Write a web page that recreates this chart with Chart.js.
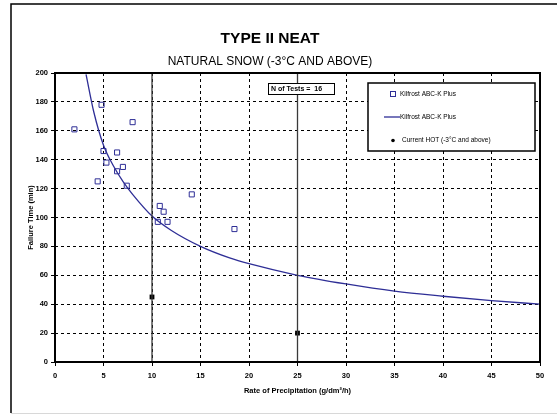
<!DOCTYPE html>
<html>
<head>
<meta charset="utf-8">
<script src="https://cdn.jsdelivr.net/npm/chart.js@4.4.0/dist/chart.umd.min.js"></script>
<style>
  body { margin: 0; background: #fff; }
  #grafico { display: block; }
</style>
</head>
<body>
<canvas id="grafico" width="557" height="415"></canvas>
<script>
// Ensayos (Kilfrost ABC-K Plus)
const ensayosX = [2, 4.8, 8, 5, 5.3, 6.4, 6.4, 7, 4.4, 7.4, 10.8, 11.2, 10.6, 11.6, 14.1, 18.5];
const ensayosY = [161, 178, 166, 146, 138, 145, 132, 135, 125, 122, 108, 104, 97, 97, 116, 92];

// Curva de regresion
const curvaX = [3.2, 4, 5, 6, 7, 8, 10, 12, 15, 18, 20, 25, 30, 35, 40, 45, 50];
const curvaY = [199, 173, 150, 136, 125, 116, 101, 91, 80, 72, 68, 60, 54, 49, 45.5, 42.5, 40];

// Current HOT (-3 C and above)
const hotX = [10, 25];
const hotY = [45, 20];

const ticksX = [0, 5, 10, 15, 20, 25, 30, 35, 40, 45, 50];
const ticksY = [0, 20, 40, 60, 80, 100, 120, 140, 160, 180, 200];

const etiquetas = ['Kilfrost ABC-K Plus', 'Kilfrost ABC-K Plus', 'Current HOT (-3\u00B0C and above)'];
const numEnsayos = ensayosX.length;

const azul = '#2e2e96';
const fuentePeq = { family: 'Liberation Sans, Arial, sans-serif', size: 7.5, weight: 'bold' };

function pares(xs, ys) {
    return xs.map((x, i) => ({ x: x, y: ys[i] }));
}

// lineas verticales en los puntos HOT
const verticales = hotX.map(x => ({
    type: 'line',
    data: [{ x: x, y: 0 }, { x: x, y: 200 }],
    borderColor: '#3a3a3a',
    borderWidth: 1.3,
    pointRadius: 0,
    showLine: true
}));

// cuadro del grafico, leyenda y caja "N of Tests"
const extras = {
    id: 'extras',
    beforeDraw(chart) {
        const ctx = chart.ctx;
        ctx.save();
        ctx.fillStyle = '#fff';
        ctx.fillRect(0, 0, chart.width, chart.height);
        ctx.strokeStyle = '#000';
        ctx.lineWidth = 1.5;
        ctx.beginPath();
        ctx.moveTo(11, 413);
        ctx.lineTo(11, 4);
        ctx.lineTo(557, 4);
        ctx.stroke();
        ctx.strokeStyle = '#d8d8d8';
        ctx.lineWidth = 1;
        ctx.beginPath();
        ctx.moveTo(11, 413.5);
        ctx.lineTo(557, 413.5);
        ctx.stroke();
        ctx.restore();
    },
    afterDraw(chart) {
        const ctx = chart.ctx;
        const a = chart.chartArea;
        ctx.save();
        ctx.strokeStyle = '#000';
        ctx.lineWidth = 2;
        ctx.strokeRect(a.left, a.top, a.right - a.left, a.bottom - a.top);

        // N of Tests
        ctx.fillStyle = '#fff';
        ctx.fillRect(268, 83, 66, 11);
        ctx.lineWidth = 1;
        ctx.strokeRect(268.5, 83.5, 66, 11);
        ctx.fillStyle = '#000';
        ctx.font = 'bold 7px Liberation Sans, Arial, sans-serif';
        ctx.textBaseline = 'middle';
        ctx.textAlign = 'left';
        ctx.fillText('N of Tests =  ' + numEnsayos, 271, 89.5);

        // leyenda
        ctx.fillStyle = '#fff';
        ctx.fillRect(368, 83, 167, 68);
        ctx.lineWidth = 1.5;
        ctx.strokeRect(368, 83, 167, 68);
        const filas = [94, 117, 140];
        ctx.font = '6.5px Liberation Sans, Arial, sans-serif';
        ctx.strokeStyle = azul;
        ctx.lineWidth = 1;
        ctx.strokeRect(390.5, 91.5, 5, 5);
        ctx.lineWidth = 1.3;
        ctx.beginPath();
        ctx.moveTo(384, filas[1]);
        ctx.lineTo(400, filas[1]);
        ctx.stroke();
        ctx.fillStyle = '#000';
        ctx.beginPath();
        ctx.arc(393, filas[2] + 0.5, 1.8, 0, Math.PI * 2);
        ctx.fill();
        ctx.fillText(etiquetas[0], 400, filas[0]);
        ctx.fillText(etiquetas[1], 400, filas[1]);
        ctx.fillText(etiquetas[2], 402, filas[2]);
        ctx.restore();
    }
};

const gridColor = (extremos) => (c) =>
    (c.tick && extremos.includes(c.tick.value)) ? 'rgba(0,0,0,0)' : '#000';

const ctx = document.getElementById('grafico').getContext('2d');
const chart = new Chart(ctx, {
    type: 'scatter',
    data: {
        datasets: [
            ...verticales,
            {
                label: etiquetas[1],
                type: 'line',
                data: pares(curvaX, curvaY),
                borderColor: azul,
                borderWidth: 1.3,
                pointRadius: 0,
                cubicInterpolationMode: 'monotone',
                fill: false
            },
            {
                label: etiquetas[0],
                data: pares(ensayosX, ensayosY),
                pointStyle: 'rect',
                pointRadius: 3.6,
                borderColor: azul,
                borderWidth: 1,
                backgroundColor: 'rgba(255,255,255,0)'
            },
            {
                label: etiquetas[2],
                data: pares(hotX, hotY),
                pointStyle: 'rect',
                pointRadius: 3.4,
                borderColor: '#000',
                backgroundColor: '#000',
                borderWidth: 0
            }
        ]
    },
    options: {
        responsive: false,
        animation: false,
        events: [],
        layout: {
            padding: { left: 0, right: 17, top: 0, bottom: 20 }
        },
        plugins: {
            legend: { display: false },
            tooltip: { enabled: false },
            title: {
                display: true,
                text: 'TYPE II NEAT',
                color: '#000',
                font: { family: 'Liberation Sans, Arial, sans-serif', size: 15.5, weight: 'bold' },
                padding: { top: 29, bottom: 6 }
            },
            subtitle: {
                display: true,
                text: 'NATURAL SNOW (-3\u00B0C AND ABOVE)',
                color: '#000',
                font: { family: 'Liberation Sans, Arial, sans-serif', size: 12, weight: 'normal' },
                padding: { top: 1, bottom: 4 }
            }
        },
        scales: {
            x: {
                type: 'linear',
                min: 0,
                max: 50,
                afterBuildTicks(scale) {
                    scale.ticks = ticksX.map(v => ({ value: v }));
                },
                afterFit(scale) { scale.height = 33; },
                border: { display: false, dash: [3, 3] },
                grid: {
                    color: gridColor([0, 50]),
                    tickColor: '#000',
                    lineWidth: 1,
                    tickBorderDash: [],
                    tickLength: 4
                },
                ticks: {
                    color: '#000',
                    font: fuentePeq,
                    padding: 5,
                    maxRotation: 0
                },
                title: {
                    display: true,
                    text: 'Rate of Precipitation (g/dm\u00B2/h)',
                    color: '#000',
                    font: fuentePeq,
                    padding: { top: 4, bottom: 0 }
                }
            },
            y: {
                type: 'linear',
                min: 0,
                max: 200,
                afterBuildTicks(scale) {
                    scale.ticks = ticksY.map(v => ({ value: v }));
                },
                afterFit(scale) { scale.width = 55; },
                border: { display: false, dash: [3, 3] },
                grid: {
                    color: gridColor([0, 200]),
                    tickColor: '#000',
                    lineWidth: 1,
                    tickBorderDash: [],
                    tickLength: 4
                },
                ticks: {
                    color: '#000',
                    font: fuentePeq,
                    padding: 3
                },
                title: {
                    display: true,
                    text: 'Failure Time (min)',
                    color: '#000',
                    font: fuentePeq,
                    padding: { top: 26, bottom: 0 }
                }
            }
        }
    },
    plugins: [extras]
});
</script>
</body>
</html>
